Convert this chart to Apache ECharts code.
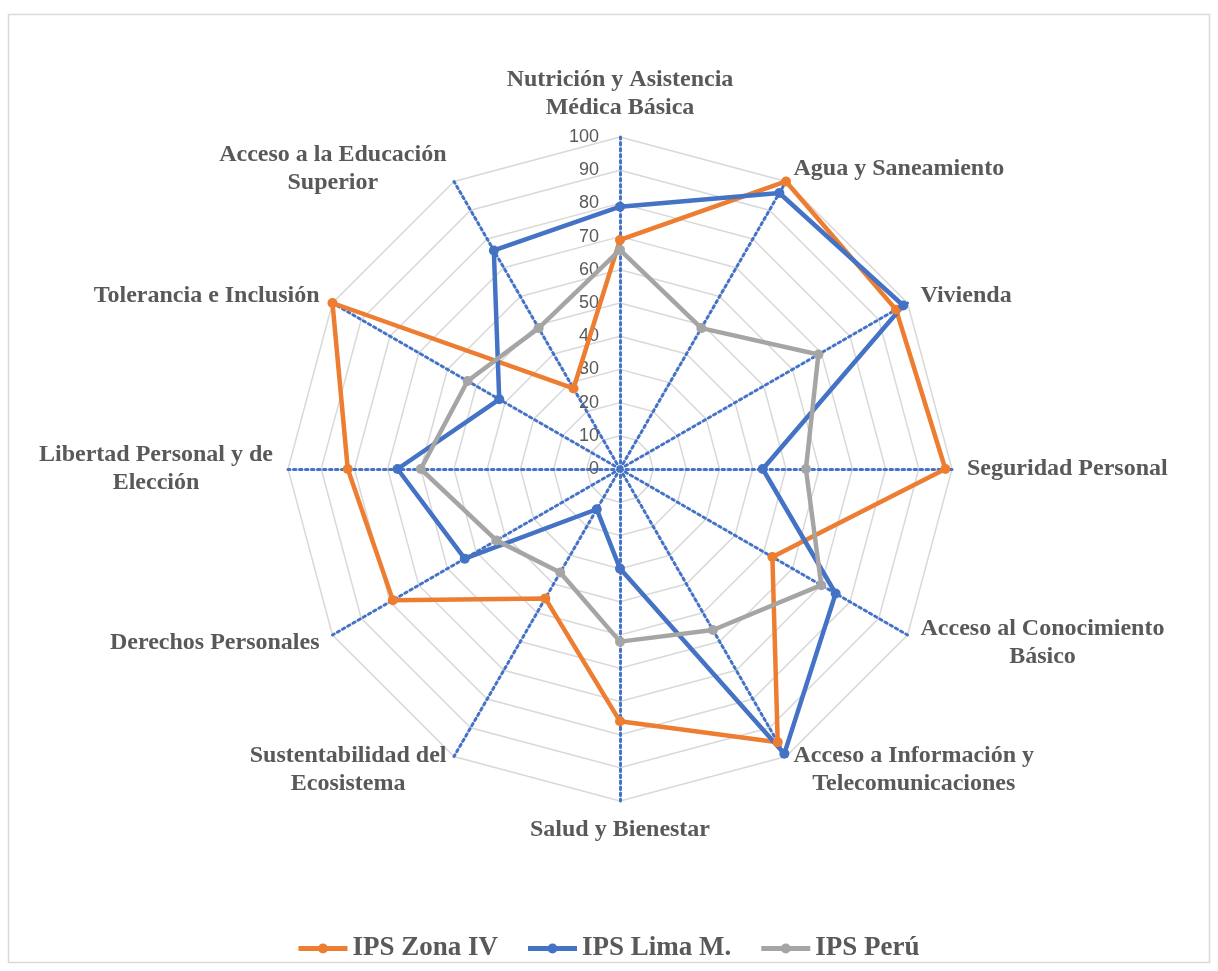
<!DOCTYPE html>
<html>
<head>
<meta charset="utf-8">
<title>IPS radar</title>
<script src="https://cdn.jsdelivr.net/npm/echarts@6/dist/echarts.min.js"></script>
<style>
    body{
        margin: 0;
        background: #fff;
    }
    #chart{
        width: 1218px;
        height: 971px;
    }
</style>
</head>
<body>
<div id="chart"></div>
<script>
// dimensiones en sentido horario desde arriba
var categories = [
    'Nutrición y Asistencia\nMédica Básica',
    'Agua y Saneamiento',
    'Vivienda',
    'Seguridad Personal',
    'Acceso al Conocimiento\nBásico',
    'Acceso a Información y\nTelecomunicaciones',
    'Salud y Bienestar',
    'Sustentabilidad del\nEcosistema',
    'Derechos Personales',
    'Libertad Personal y de\nElección',
    'Tolerancia e Inclusión',
    'Acceso a la Educación\nSuperior'
];
var seriesNames = ['IPS Zona IV', 'IPS Lima M.', 'IPS Perú'];
var zonaIV = [69, 100, 96, 98, 53, 95, 76, 45, 79, 82, 100, 28];
var limaM = [79, 96, 98.5, 43, 75, 99, 30, 14, 54, 67, 42, 76];
var peru = [66, 49, 69, 56, 70, 56, 52, 36, 43, 60, 53, 49];
var tickValues = [0, 10, 20, 30, 40, 50, 60, 70, 80, 90, 100];

var colors = ['#ED7D31', '#4472C4', '#A5A5A5'];
var serif = "'Liberation Serif', 'Times New Roman', serif";
var textGray = '#595959';

// el radar de echarts avanza en sentido antihorario: se invierte el orden
function toCcw(arr){
    var out = [arr[0]];
    for(var i = arr.length - 1; i > 0; i--){
        out.push(arr[i]);
    }
    return out;
}

var indicators = toCcw(categories).map(function(name){
    return {name: name, min: 0, max: 100};
});

var allData = [zonaIV, limaM, peru];
var series = [];
for(var i = 0; i < allData.length; i++){
    series.push({
        name: seriesNames[i],
        type: 'radar',
        radarIndex: 0,
        symbol: 'circle',
        symbolSize: 10,
        lineStyle: {width: 4.5, color: colors[i]},
        itemStyle: {color: colors[i]},
        data: [{value: toCcw(allData[i]), name: seriesNames[i]}]
    });
}

var legendIcon = 'path://M0,4.5L49,4.5L49,9.5L0,9.5Z M29.5,7A5,5 0 1 1 19.5,7A5,5 0 1 1 29.5,7Z';

var myChart = echarts.init(document.getElementById('chart'));
myChart.setOption({
    backgroundColor: '#fff',
    animation: false,
    color: colors,
    graphic: [{
        type: 'rect',
        shape: {x: 8.5, y: 14.5, width: 1201, height: 948},
        style: {fill: 'none', stroke: '#D9D9D9', lineWidth: 1.5},
        silent: true
    }],
    legend: {
        data: seriesNames,
        left: 'center',
        top: 930,
        icon: legendIcon,
        itemWidth: 49,
        itemHeight: 14,
        itemGap: 30,
        textStyle: {
            fontFamily: serif,
            fontWeight: 'bold',
            fontSize: 27,
            color: textGray
        }
    },
    radar: {
        center: [620, 469],
        radius: 332,
        startAngle: 90,
        shape: 'polygon',
        splitNumber: 10,
        nameGap: 15,
        indicator: indicators,
        axisName: {
            color: textGray,
            fontFamily: serif,
            fontWeight: 'bold',
            fontSize: 24,
            lineHeight: 28,
            formatter: function(value){
                return value.split('\n').map(function(s){
                    return '{c|' + s + '}';
                }).join('\n');
            },
            rich: {
                c: {
                    align: 'center',
                    color: textGray,
                    fontFamily: serif,
                    fontWeight: 'bold',
                    fontSize: 24,
                    lineHeight: 28
                }
            }
        },
        axisLine: {
            show: true,
            lineStyle: {color: '#4472C4', width: 3, type: [2.5, 3.5]}
        },
        splitLine: {
            lineStyle: {color: '#D9D9D9', width: 1.5}
        },
        splitArea: {show: false}
    },
    // eje invisible solo para las etiquetas 0-100 sobre el eje vertical
    grid: {
        left: 620,
        top: 137,
        width: 1,
        height: 332
    },
    xAxis: {
        type: 'value',
        show: false,
        min: 0,
        max: 1
    },
    yAxis: {
        type: 'value',
        min: tickValues[0],
        max: tickValues[tickValues.length - 1],
        interval: 10,
        axisLine: {show: false},
        axisTick: {show: false},
        splitLine: {show: false},
        axisLabel: {
            margin: 21,
            color: textGray,
            fontSize: 18,
            fontFamily: "'Liberation Sans', Arial, sans-serif"
        }
    },
    series: series
});
</script>
</body>
</html>
